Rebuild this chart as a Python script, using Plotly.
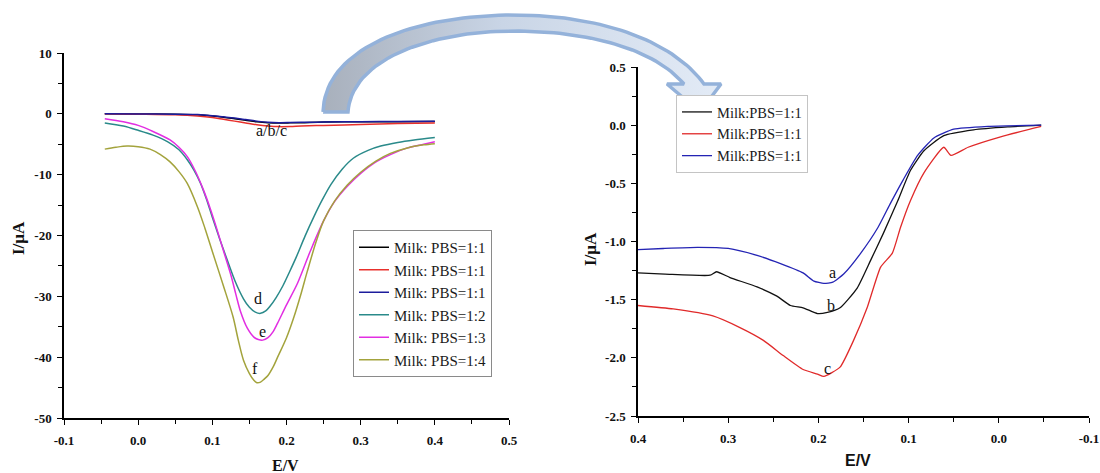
import numpy as np
import plotly.graph_objects as go

# ---------------- Left panel data (E/V vs I/uA) ----------------
left_names = ["Milk: PBS=1:1", "Milk: PBS=1:1", "Milk: PBS=1:1",
              "Milk: PBS=1:2", "Milk: PBS=1:3", "Milk: PBS=1:4"]

E_abc = [-0.045, 0.0, 0.05, 0.08, 0.1, 0.115, 0.13, 0.145, 0.16, 0.175, 0.19, 0.205, 0.22, 0.25, 0.3, 0.35, 0.4]
I_a = [0.0, -0.02, -0.05, -0.15, -0.35, -0.55, -0.8, -1.05, -1.3, -1.45, -1.5, -1.48, -1.45, -1.35, -1.3, -1.3, -1.25]
I_b = [0.0, -0.05, -0.15, -0.35, -0.6, -0.9, -1.2, -1.5, -1.8, -2.0, -2.1, -2.08, -2.0, -1.9, -1.75, -1.6, -1.5]
I_c = [0.0, -0.02, -0.05, -0.12, -0.3, -0.5, -0.7, -0.95, -1.2, -1.38, -1.45, -1.43, -1.4, -1.35, -1.3, -1.25, -1.2]

E_d = [-0.045, -0.02, 0.0, 0.02, 0.04, 0.055, 0.066, 0.075, 0.084, 0.092, 0.1, 0.11, 0.12, 0.131, 0.142,
       0.15, 0.158, 0.165, 0.172, 0.178, 0.186, 0.195, 0.204, 0.213, 0.225, 0.237, 0.248, 0.26, 0.275,
       0.29, 0.31, 0.327, 0.35, 0.372, 0.4]
I_d = [-1.5, -2.0, -2.7, -3.5, -4.6, -5.9, -7.5, -9.2, -11.4, -14.0, -17.0, -20.6, -24.0, -27.6, -30.4,
       -31.8, -32.6, -32.8, -32.4, -31.6, -30.2, -28.3, -26.0, -23.6, -20.1, -16.9, -14.2, -11.6, -9.1,
       -7.3, -6.0, -5.3, -4.7, -4.3, -3.9]

E_e = [-0.045, -0.02, 0.0, 0.02, 0.043, 0.055, 0.066, 0.077, 0.088, 0.097, 0.105, 0.115, 0.125, 0.132,
       0.138, 0.147, 0.156, 0.162, 0.168, 0.175, 0.182, 0.188, 0.2, 0.215, 0.232, 0.25, 0.265, 0.282,
       0.3, 0.318, 0.34, 0.363, 0.385, 0.4]
I_e = [-0.8, -1.3, -1.9, -2.9, -4.3, -5.5, -7.0, -9.4, -12.5, -15.5, -18.5, -22.5, -26.5, -29.8,
       -32.5, -35.2, -36.7, -37.1, -37.2, -36.8, -35.8, -34.4, -31.4, -27.8, -22.6, -17.6, -14.4, -11.9,
       -9.8, -8.1, -6.7, -5.6, -5.0, -4.6]

E_f = [-0.045, -0.03, -0.015, 0.0, 0.016, 0.03, 0.043, 0.055, 0.066, 0.08, 0.09, 0.101, 0.115, 0.128,
       0.135, 0.142, 0.15, 0.156, 0.16, 0.165, 0.17, 0.175, 0.182, 0.188, 0.2, 0.21, 0.22, 0.228, 0.24,
       0.25, 0.265, 0.282, 0.3, 0.32, 0.34, 0.363, 0.385, 0.4]
I_f = [-5.8, -5.5, -5.3, -5.4, -5.8, -6.7, -7.9, -9.5, -11.4, -15.3, -18.8, -23.0, -28.3, -33.4,
       -37.2, -40.5, -42.7, -43.8, -44.2, -44.1, -43.6, -43.0, -41.6, -40.0, -36.8, -33.4, -29.4, -25.9, -21.0,
       -17.6, -14.3, -11.7, -9.6, -7.8, -6.5, -5.6, -5.1, -4.9]

left_colors = ["#000000", "#e8302c", "#1c1c9c", "#2a8a8a", "#e22ee2", "#a3a33c"]

# ---------------- Right panel data ----------------
right_names = ["Milk:PBS=1:1", "Milk:PBS=1:1", "Milk:PBS=1:1"]

E_rb = [0.4, 0.37, 0.32, 0.313, 0.298, 0.268, 0.246, 0.231, 0.217, 0.201, 0.19, 0.176, 0.157, 0.142, 0.128, 0.112, 0.098, 0.083, 0.061, 0.028, -0.01, -0.047]
I_rb = [-1.27, -1.28, -1.29, -1.26, -1.31, -1.39, -1.47, -1.55, -1.57, -1.62, -1.61, -1.57, -1.40, -1.16, -0.93, -0.65, -0.39, -0.22, -0.09, -0.04, -0.015, 0.0]

E_rr = [0.4, 0.361, 0.317, 0.287, 0.261, 0.239, 0.217, 0.201, 0.194, 0.176, 0.161, 0.146, 0.131, 0.118, 0.109, 0.098, 0.083, 0.061, 0.053, 0.034, -0.002, -0.047]
I_rr = [-1.55, -1.58, -1.64, -1.74, -1.85, -1.98, -2.10, -2.14, -2.16, -2.08, -1.85, -1.57, -1.22, -1.10, -0.88, -0.65, -0.41, -0.19, -0.26, -0.19, -0.10, -0.01]

E_ra = [0.4, 0.372, 0.334, 0.30, 0.268, 0.242, 0.217, 0.205, 0.194, 0.184, 0.172, 0.153, 0.134, 0.12, 0.106, 0.09, 0.072, 0.05, 0.012, -0.047]
I_ra = [-1.07, -1.06, -1.05, -1.06, -1.12, -1.19, -1.27, -1.34, -1.36, -1.35, -1.28, -1.10, -0.88, -0.67, -0.47, -0.26, -0.11, -0.035, -0.01, 0.0]

right_colors = ["#111111", "#e02a2a", "#2424b4"]

# ---------------- Tick values / labels ----------------
left_xticks = [-0.1, 0.0, 0.1, 0.2, 0.3, 0.4, 0.5]
left_xtext = ["-0.1", "0.0", "0.1", "0.2", "0.3", "0.4", "0.5"]
left_yticks = [10, 0, -10, -20, -30, -40, -50]
left_ytext = ["10", "0", "-10", "-20", "-30", "-40", "-50"]
right_xticks = [0.4, 0.3, 0.2, 0.1, 0.0, -0.1]
right_xtext = ["0.4", "0.3", "0.2", "0.1", "0.0", "-0.1"]
right_yticks = [0.5, 0.0, -0.5, -1.0, -1.5, -2.0, -2.5]
right_ytext = ["0.5", "0.0", "-0.5", "-1.0", "-1.5", "-2.0", "-2.5"]

W, H = 1100, 473
SERIF = "Liberation Serif"
SANS = "Liberation Sans"

fig = go.Figure()

left_series = [(E_abc, I_a), (E_abc, I_b), (E_abc, I_c), (E_d, I_d), (E_e, I_e), (E_f, I_f)]
for (ex, iy), nm, col in zip(left_series, left_names, left_colors):
    fig.add_trace(go.Scatter(x=ex, y=iy, mode="lines", name=nm,
                             line=dict(color=col, width=1.5, shape="spline", smoothing=0.9),
                             xaxis="x", yaxis="y", legend="legend", hoverinfo="skip"))

right_series = [(E_rb, I_rb), (E_rr, I_rr), (E_ra, I_ra)]
for (ex, iy), nm, col in zip(right_series, right_names, right_colors):
    fig.add_trace(go.Scatter(x=ex, y=iy, mode="lines", name=nm,
                             line=dict(color=col, width=1.3, shape="spline", smoothing=0.5),
                             xaxis="x2", yaxis="y2", legend="legend2", hoverinfo="skip"))

# ---------------- Decorative curved arrow (pixel space overlay) ----------------
def bez(p0, p1, p2, p3, n=40):
    t = np.linspace(0, 1, n)[:, None]
    pts = ((1 - t) ** 3) * np.array(p0) + 3 * ((1 - t) ** 2) * t * np.array(p1) \
        + 3 * (1 - t) * t ** 2 * np.array(p2) + t ** 3 * np.array(p3)
    return pts

outer = np.vstack([bez((323, 112), (325, 45), (420, 15), (513, 15)),
                   bez((513, 15), (600, 15), (672, 40), (704, 84))])
head = np.array([(721, 84), (700, 112), (667, 84), (684, 84)])
inner = np.vstack([bez((684, 84), (655, 50), (592, 31), (513, 31)),
                   bez((513, 31), (440, 31), (352, 55), (348, 112))])
arrow = np.vstack([outer, head, inner, outer[:1]])
fig.add_trace(go.Scatter(x=arrow[:, 0], y=arrow[:, 1], mode="lines", fill="toself",
                         fillgradient=dict(type="horizontal",
                                           colorscale=[[0, "#a8b0bc"], [0.45, "#c9d5e6"], [1, "#e3ebf6"]]),
                         line=dict(color="#94b2da", width=3.5),
                         xaxis="x3", yaxis="y3", showlegend=False, hoverinfo="skip"))

tickfont = dict(family=SERIF, size=13, color="#111111", weight="bold")
axis_common = dict(showline=True, linecolor="black", linewidth=1.5, showgrid=False, zeroline=False,
                   ticks="outside", ticklen=5, tickwidth=1.3, tickcolor="black", tickfont=tickfont,
                   mirror=False, automargin=False)

fig.update_layout(
    width=W, height=H, margin=dict(l=0, r=0, t=0, b=0, autoexpand=False),
    paper_bgcolor="white", plot_bgcolor="rgba(0,0,0,0)",
    xaxis=dict(domain=[64 / W, 509 / W], range=[-0.1, 0.5], tickvals=left_xticks, ticktext=left_xtext,
               anchor="y", ticklabelstandoff=5,
               minor=dict(ticks="outside", ticklen=4, tickwidth=1.2, tickcolor="black", dtick=0.05, showgrid=False),
               **axis_common),
    yaxis=dict(domain=[1 - 418 / H, 1 - 53 / H], range=[-50, 10], tickvals=left_yticks, ticktext=left_ytext,
               anchor="x", ticklabelstandoff=3,
               minor=dict(ticks="outside", ticklen=4, tickwidth=1.2, tickcolor="black", dtick=5, showgrid=False),
               **axis_common),
    xaxis2=dict(domain=[638 / W, 1089 / W], range=[0.4, -0.1], tickvals=right_xticks, ticktext=right_xtext,
                anchor="y2", ticklabelstandoff=5,
                minor=dict(ticks="outside", ticklen=4, tickwidth=1.2, tickcolor="black", dtick=0.05, showgrid=False),
                **axis_common),
    yaxis2=dict(domain=[1 - 416 / H, 1 - 67 / H], range=[-2.5, 0.5], tickvals=right_yticks, ticktext=right_ytext,
                anchor="x2", ticklabelstandoff=3,
                minor=dict(ticks="outside", ticklen=4, tickwidth=1.2, tickcolor="black", dtick=0.25, showgrid=False),
                **axis_common),
    xaxis3=dict(domain=[0, 1], range=[0, W], visible=False, anchor="y3", fixedrange=True, automargin=False),
    yaxis3=dict(domain=[0, 1], range=[H, 0], visible=False, anchor="x3", fixedrange=True, automargin=False),
    legend=dict(x=353 / W, y=1 - 230 / H, xanchor="left", yanchor="top",
                bordercolor="#8a8a8a", borderwidth=1, bgcolor="white",
                font=dict(family=SERIF, size=15, color="#1a1a1a"), itemwidth=30),
    legend2=dict(x=676 / W, y=1 - 95 / H, xanchor="left", yanchor="top",
                 bordercolor="#c4c4c4", borderwidth=1, bgcolor="white",
                 font=dict(family=SERIF, size=14.5, color="#1a1a1a"), itemwidth=30),
)

# Axis titles (placed as text)
title_kw = dict(xref="paper", yref="paper", showarrow=False, xanchor="center", yanchor="middle")
fig.add_annotation(text="I/μA", x=18 / W, y=1 - 238 / H, textangle=-90,
                   font=dict(family=SERIF, size=17, color="#111", weight="bold"), **title_kw)
fig.add_annotation(text="E/V", x=285 / W, y=1 - 465 / H,
                   font=dict(family=SERIF, size=16, color="#111", weight="bold"), **title_kw)
fig.add_annotation(text="I/μA", x=591 / W, y=1 - 249 / H, textangle=-90,
                   font=dict(family=SERIF, size=17, color="#111", weight="bold"), **title_kw)
fig.add_annotation(text="E/V", x=858 / W, y=1 - 460 / H,
                   font=dict(family=SANS, size=16, color="#111", weight="bold"), **title_kw)

# Curve labels
lab_font = dict(family=SERIF, size=16, color="#111")
for txt, ex, iy in [("a/b/c", 0.18, -2.7), ("d", 0.162, -30.3), ("e", 0.168, -35.7), ("f", 0.158, -41.8)]:
    fig.add_annotation(text=txt, x=ex, y=iy, xref="x", yref="y", showarrow=False, font=lab_font)
for txt, ex, iy in [("a", 0.184, -1.27), ("b", 0.186, -1.55), ("c", 0.19, -2.09)]:
    fig.add_annotation(text=txt, x=ex, y=iy, xref="x2", yref="y2", showarrow=False, font=lab_font)

fig.write_html("out.html", config={"displayModeBar": False},
               post_script="document.body.style.margin='0';document.body.style.overflow='hidden';")
